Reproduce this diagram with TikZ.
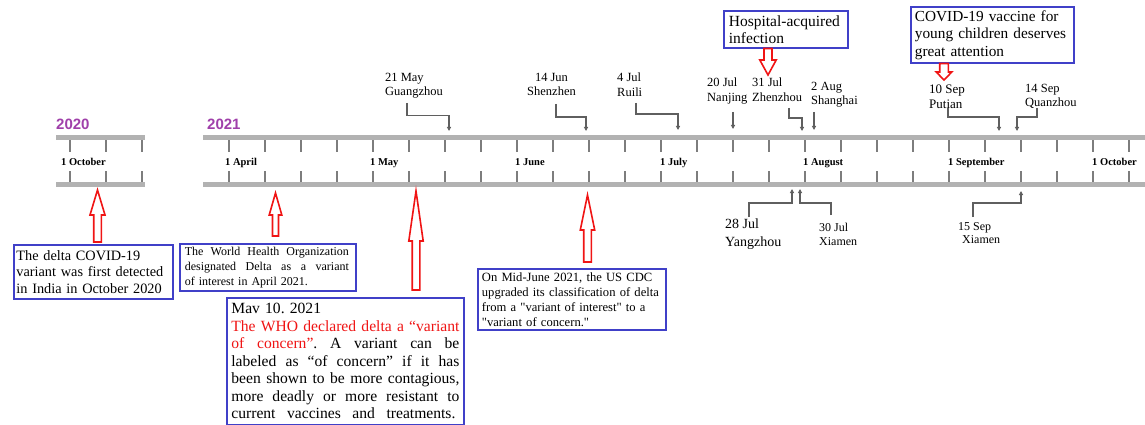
\documentclass[tikz,border=0pt]{standalone}
\usepackage{fontspec}
\setmainfont{Liberation Serif}
\newfontfamily\yearfont{Liberation Sans}
\newfontfamily\qfont{Liberation Serif}
\usetikzlibrary{arrows.meta}
\definecolor{barcol}{RGB}{178,178,178}
\definecolor{tickcol}{RGB}{125,125,125}
\definecolor{conncol}{RGB}{95,95,95}
\definecolor{boxblue}{RGB}{64,64,200}
\definecolor{yearpurple}{RGB}{160,64,170}
\definecolor{arrred}{RGB}{240,20,20}
\newcommand\redarrow[6]{\draw[hollow] ({#1-#6},#4) -- ({#1-#6},#3) -- ({#1-#5},#3) -- (#1,#2) -- ({#1+#5},#3) -- ({#1+#6},#3) -- ({#1+#6},#4) -- cycle;}
\newcommand\jl[2]{{\spaceskip=0.25em plus 1fil minus 0.06em\relax\makebox[#1][s]{#2}}}
\tikzset{
 bar/.style={line width=5pt, barcol},
 tickmark/.style={line width=1.4pt, tickcol},
 monthlbl/.style={anchor=base west, inner sep=0, font=\fontsize{10.5}{12}\selectfont\bfseries},
 yearlbl/.style={anchor=base west, inner sep=0, text=yearpurple, font=\yearfont\bfseries\fontsize{15}{18}\selectfont},
 citylbl/.style={anchor=north west, inner sep=0, align=left, font=\fontsize{12.5}{14.5}\selectfont},
 conn/.style={conncol, line width=1.2pt, -{Triangle[length=4pt,width=4pt]}},
 infobox/.style={draw=boxblue, line width=1.8pt, anchor=north west, inner ysep=1pt, align=left},
 hollow/.style={draw=arrred, line width=1.6pt, fill=white},
}
\begin{document}
\frenchspacing
\begin{tikzpicture}[x=1pt,y=-1pt]
\useasboundingbox[fill=white] (0,0) rectangle (1145,425);

% year labels
\node[yearlbl] (y2020) at (56,129) {2020};
\node[yearlbl] (y2021) at (207,129) {2021};

% bars
\draw[bar] (56,137.5) -- (145,137.5);
\draw[bar] (56,184) -- (145,184);
\draw[bar] (203,137.5) -- (1145,137.5);
\draw[bar] (203,184) -- (1145,184);

% ticks
\foreach \t in {70,106,142}{
  \draw[tickmark] (\t,140) -- (\t,152);
  \draw[tickmark] (\t,171) -- (\t,181.5);
}
\foreach \k in {0,...,25}{
  \draw[tickmark] ({229+36*\k},140) -- ({229+36*\k},152);
  \draw[tickmark] ({229+36*\k},171) -- ({229+36*\k},181.5);
}

% month labels
\node[monthlbl] (m0) at (61,165) {1 October};
\node[monthlbl] (m1) at (225,165) {1 April};
\node[monthlbl] (m2) at (370,165) {1 May};
\node[monthlbl] (m3) at (515,165) {1 June};
\node[monthlbl] (m4) at (660,165) {1 July};
\node[monthlbl] (m5) at (803,165) {1 August};
\node[monthlbl] (m6) at (948,165) {1 September};
\node[monthlbl] (m7) at (1092,165) {1 October};

% city labels above
\node[citylbl] (c1) at (385,73) {21 May\\Guangzhou};
\node[citylbl, align=center] (c2) at (527,73) {14 Jun\\Shenzhen};
\node[citylbl] (c3) at (617,73) {4 Jul\\Ruili};
\node[citylbl] (c4) at (707,78) {20 Jul\\Nanjing};
\node[citylbl] (c5) at (752,78) {31 Jul\\Zhenzhou};
\node[citylbl] (c6) at (811,82) {2 Aug\\Shanghai};
\node[citylbl, font=\fontsize{13}{15}\selectfont] (c7) at (929,85) {10 Sep\\Putian};
\node[citylbl] (c8) at (1025,84) {14 Sep\\Quanzhou};
% city labels below
\node[citylbl, font=\fontsize{14}{18}\selectfont] (c9) at (725,219) {28 Jul\\Yangzhou};
\node[citylbl, font=\fontsize{12}{13.5}\selectfont] (c10) at (819,223) {30 Jul\\Xiamen};
\node[citylbl, font=\fontsize{12}{13.5}\selectfont] (c11) at (958,222) {15 Sep\\\hspace*{4pt}Xiamen};

% connector coordinates
\coordinate (s1) at (407,103); \coordinate (e1) at (449,131);
\coordinate (s2) at (556,104); \coordinate (e2) at (586,131);
\coordinate (s3) at (636,103); \coordinate (e3) at (678,130);
\coordinate (s4) at (733,112); \coordinate (e4) at (733,129);
\coordinate (s5) at (789,108); \coordinate (e5) at (802,131);
\coordinate (s6) at (814,112); \coordinate (e6) at (814,130);
\coordinate (s7) at (948,108); \coordinate (e7) at (999,131);
\coordinate (s8) at (1037,108); \coordinate (e8) at (1017,131);
\coordinate (s9) at (749,217); \coordinate (e9) at (792,189);
\coordinate (s10) at (831,215); \coordinate (e10) at (800,189);
\coordinate (s11) at (973,217); \coordinate (e11) at (1021,191);

\draw[conn] (s1) -- (407,115.5) -| (e1);
\draw[conn] (s2) -- (556,117) -| (e2);
\draw[conn] (s3) -- (636,114) -| (e3);
\draw[conn] (s4) -- (e4);
\draw[conn] (s5) -- (789,118) -| (e5);
\draw[conn] (s6) -- (e6);
\draw[conn] (s7) -- (948,117) -| (e7);
\draw[conn] (s8) -- (1037,117) -| (e8);
\draw[conn] (s9) -- (749,203) -| (e9);
\draw[conn] (s10) -- (831,203) -| (e10);
\draw[conn] (s11) -- (973,203) -| (e11);

% info boxes
\node[infobox, inner xsep=2.5pt, text width=154pt, minimum height=54pt,
  font=\fontsize{14.3}{16.7}\selectfont] (b1) at (13,244)
  {\mbox{The delta COVID-19}\\\mbox{variant was first detected}\\\mbox{in India in October 2020}};
\node[infobox, inner xsep=5pt, text width=166pt, minimum height=47pt,
  font=\fontsize{12}{15}\selectfont] (b2) at (179,243)
  {\jl{164pt}{The World Health Organization}\\\jl{164pt}{designated Delta as a variant}\\\mbox{of interest in April 2021.}};
\node[infobox, inner xsep=4.5pt, text width=228pt, minimum height=127pt,
  font=\fontsize{15.6}{17.5}\selectfont] (b3) at (226,297)
  {\mbox{Mav 10. 2021}\\
   \jl{228pt}{\color{arrred}The WHO declared delta a “variant}\\
   \jl{228pt}{\textcolor{arrred}{of concern”}. A variant can be}\\
   \jl{228pt}{labeled as “of concern” if it has}\\
   \jl{228pt}{been shown to be more contagious,}\\
   \jl{228pt}{more deadly or more resistant to}\\
   \jl{224pt}{current vaccines and treatments.}};
\node[infobox, inner xsep=4pt, text width=180pt, minimum height=61pt,
  font=\qfont\fontsize{12.6}{15}\selectfont] (b4) at (477,268)
  {\mbox{On Mid-June 2021, the US CDC}\\\mbox{upgraded its classification of delta}\\\mbox{from a "variant of interest" to a}\\\mbox{"variant of concern."}};
\node[infobox, inner xsep=5pt, text width=114pt, minimum height=37pt,
  font=\fontsize{15.5}{16.7}\selectfont] (b5) at (723,10)
  {\mbox{Hospital-acquired}\\infection};
\node[infobox, inner xsep=4pt, text width=155pt, minimum height=56pt,
  font=\fontsize{15.3}{17.5}\selectfont] (b6) at (910,6)
  {\mbox{COVID-19 vaccine for}\\\mbox{young children deserves}\\\mbox{great attention}};

% red hollow arrows
\redarrow{97.5}{190}{215}{242}{7.5}{3.8}
\redarrow{275.5}{193}{215}{236}{6.3}{3}
\redarrow{416}{191}{241}{290}{7.2}{3.8}
\redarrow{587.5}{195}{230}{262}{7.2}{3.8}
\redarrow{768}{75}{60}{48.5}{8.2}{4}
\redarrow{944}{80}{72}{63.5}{7.8}{4.3}
\end{tikzpicture}
\end{document}
